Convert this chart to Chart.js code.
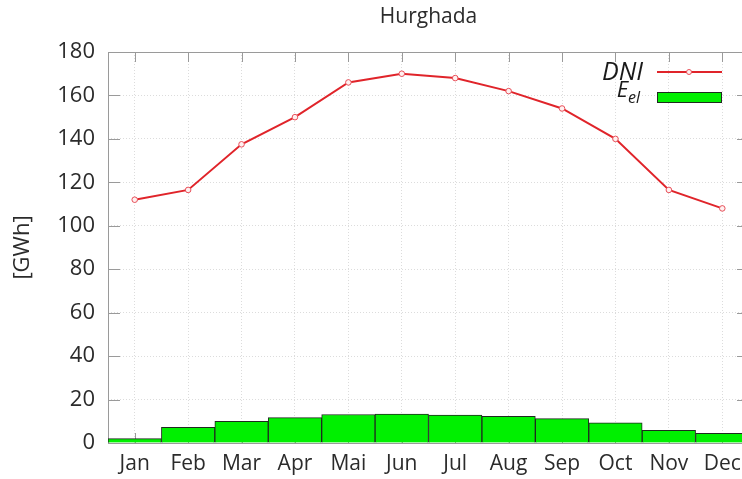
<!DOCTYPE html>
<html>
<head>
<meta charset="utf-8">
<script src="https://cdn.jsdelivr.net/npm/chart.js@4.4.1/dist/chart.umd.min.js"></script>
<style>
  html, body { margin: 0; padding: 0; background: #fff; overflow: hidden; width: 742px; height: 479px; }
  #wrap { position: relative; width: 760px; height: 479px; }
</style>
</head>
<body>
<div id="wrap"><canvas id="c" width="760" height="479"></canvas></div>
<script>
const months = ['Jan','Feb','Mar','Apr','Mai','Jun','Jul','Aug','Sep','Oct','Nov','Dec'];
const dni = [112, 116.5, 137.5, 150, 166, 170, 168, 162, 154, 140, 116.5, 108];
const eel = [2, 7.2, 10, 11.7, 13.1, 13.3, 12.9, 12.3, 11.2, 9.3, 5.8, 4.5];
const yTicks = [0, 20, 40, 60, 80, 100, 120, 140, 160, 180];
const chartTitle = 'Hurghada';
const yTitle = '[GWh]';

const FONT = "'Open Sans', 'DejaVu Sans', sans-serif";
const TXT = '#2b2b2b';

const frame = {
  id: 'frame',
  beforeDatasetsDraw(chart) {
    const { ctx, chartArea: a, scales } = chart;
    ctx.save();
    ctx.strokeStyle = '#9a9a9a';
    ctx.lineWidth = 1;
    ctx.strokeRect(a.left + 0.5, a.top + 0.5, a.right - a.left - 1, a.bottom - a.top);
    yTicks.forEach(v => {
      const y = Math.round(scales.y.getPixelForValue(v)) + 0.5;
      ctx.beginPath();
      ctx.moveTo(a.left, y); ctx.lineTo(a.left + 12, y);
      ctx.moveTo(a.right, y); ctx.lineTo(a.right - 12, y);
      ctx.stroke();
    });
    months.forEach((m, i) => {
      const x = Math.round(scales.x.getPixelForValue(i)) + 0.5;
      ctx.beginPath();
      ctx.moveTo(x, a.bottom); ctx.lineTo(x, a.bottom - 10);
      ctx.moveTo(x, a.top); ctx.lineTo(x, a.top + 10);
      ctx.stroke();
    });
    ctx.restore();
  }
};

const legendPlug = {
  id: 'legendPlug',
  afterDraw(chart) {
    const { ctx } = chart;
    ctx.save();
    ctx.fillStyle = '#1a1a1a';
    ctx.textAlign = 'right';
    ctx.textBaseline = 'alphabetic';
    ctx.font = "italic 25px " + FONT;
    ctx.fillText('DNI', 643, 80);
    ctx.font = "italic 16px " + FONT;
    ctx.fillText('el', 640, 103);
    const subW = ctx.measureText('el').width;
    ctx.font = "italic 22px " + FONT;
    ctx.fillText('E', 640 - subW, 97);
    ctx.strokeStyle = '#e0242a';
    ctx.lineWidth = 2;
    ctx.beginPath();
    ctx.moveTo(657, 72); ctx.lineTo(722, 72);
    ctx.stroke();
    ctx.beginPath();
    ctx.arc(689, 72, 2.5, 0, Math.PI * 2);
    ctx.fillStyle = '#fff0f0';
    ctx.fill();
    ctx.strokeStyle = '#e8505a';
    ctx.lineWidth = 1;
    ctx.stroke();
    ctx.fillStyle = '#00f000';
    ctx.fillRect(657, 92, 65, 11);
    ctx.strokeStyle = '#1f2a1f';
    ctx.lineWidth = 1;
    ctx.strokeRect(657.5, 92.5, 64, 10);
    ctx.restore();
  }
};

new Chart(document.getElementById('c'), {
  data: {
    labels: months,
    datasets: [
      {
        type: 'line',
        label: 'DNI',
        data: dni,
        borderColor: '#e0242a',
        borderWidth: 2,
        pointRadius: 2.8,
        pointBackgroundColor: '#fff0f0',
        pointBorderColor: '#e8505a',
        pointBorderWidth: 1,
        tension: 0,
        order: 1
      },
      {
        type: 'bar',
        label: 'E_el',
        data: eel,
        backgroundColor: '#00f000',
        borderColor: '#1f2a1f',
        borderWidth: 1,
        barPercentage: 1,
        categoryPercentage: 1,
        order: 2
      }
    ]
  },
  options: {
    responsive: false,
    animation: false,
    layout: { padding: { left: 0, right: 11, top: 0, bottom: 0 } },
    plugins: {
      legend: { display: false },
      tooltip: { enabled: false },
      title: {
        display: true,
        fullSize: false,
        text: chartTitle,
        color: TXT,
        font: { family: FONT, size: 21, weight: 'normal' },
        padding: { top: 4, bottom: 22.8 }
      }
    },
    scales: {
      x: {
        type: 'category',
        offset: true,
        afterFit: s => { s.height = 36; },
        grid: { offset: false, color: '#dcdcdc', drawTicks: false, tickLength: 0 },
        border: { display: false, dash: [1, 2] },
        ticks: { color: TXT, font: { family: FONT, size: 21 }, padding: 8, maxRotation: 0, autoSkip: false }
      },
      y: {
        min: 0,
        max: 180,
        afterFit: s => { s.width = 108; },
        grid: { color: '#dcdcdc', drawTicks: false, tickLength: 0 },
        border: { display: false, dash: [1, 2] },
        ticks: { stepSize: 20, color: TXT, font: { family: FONT, size: 22 }, padding: 13 },
        title: { display: true, text: yTitle, color: TXT, font: { family: FONT, size: 22 }, padding: { top: 10, bottom: 0 } }
      }
    }
  },
  plugins: [frame, legendPlug]
});
</script>
</body>
</html>
